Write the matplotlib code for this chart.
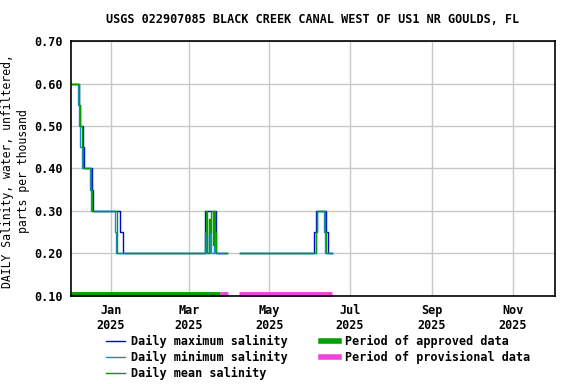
import numpy as np
import pandas as pd
from matplotlib import pyplot as plt
from matplotlib.lines import Line2D
import matplotlib.dates as mdates

"""Daily salinity at Black Creek Canal, step plot of max / min / mean"""

plt.rcParams['font.family'] = 'DejaVu Sans Mono'
plt.rcParams['font.weight'] = 'bold'
plt.rcParams['font.size'] = 8.5

# change points (date, value); NaN marks a gap in the record
max_dates = ['2024-12-03', '2024-12-08', '2024-12-09', '2024-12-11', '2024-12-12',
             '2024-12-18', '2024-12-19', '2025-01-08', '2025-01-10', '2025-03-13',
             '2025-03-22', '2025-03-30', '2025-04-09', '2025-06-04', '2025-06-05',
             '2025-06-13', '2025-06-14', '2025-06-17']
max_vals = [0.60, 0.55, 0.50, 0.45, 0.40, 0.35, 0.30, 0.25, 0.20, 0.30,
            0.20, np.nan, 0.20, 0.25, 0.30, 0.25, 0.20, np.nan]

min_dates = ['2024-12-03', '2024-12-07', '2024-12-08', '2024-12-09', '2024-12-10',
             '2024-12-16', '2024-12-17', '2025-01-04', '2025-01-05', '2025-03-14',
             '2025-03-15', '2025-03-17', '2025-03-18', '2025-03-20', '2025-03-21',
             '2025-03-30', '2025-04-09', '2025-06-05', '2025-06-06', '2025-06-11',
             '2025-06-12', '2025-06-17']
min_vals = [0.60, 0.55, 0.50, 0.45, 0.40, 0.35, 0.30, 0.25, 0.20, 0.25,
            0.20, 0.25, 0.20, 0.25, 0.20, np.nan, 0.20, 0.25, 0.30, 0.25,
            0.20, np.nan]

mean_dates = ['2024-12-03', '2024-12-08', '2024-12-09', '2024-12-10', '2024-12-11',
              '2024-12-17', '2024-12-18', '2025-01-06', '2025-03-13', '2025-03-14',
              '2025-03-15', '2025-03-16', '2025-03-17', '2025-03-18', '2025-03-19',
              '2025-03-20', '2025-03-21', '2025-03-22', '2025-03-30', '2025-04-09',
              '2025-06-05', '2025-06-06', '2025-06-12', '2025-06-13', '2025-06-17']
mean_vals = [0.60, 0.55, 0.50, 0.45, 0.40, 0.35, 0.30, 0.20, 0.25, 0.30,
             0.20, 0.28, 0.25, 0.30, 0.22, 0.30, 0.25, 0.20, np.nan, 0.20,
             0.25, 0.30, 0.25, 0.20, np.nan]

# data-quality periods (start, end)
approved = [('2024-12-02', '2025-03-25')]
provisional = [('2025-03-25', '2025-03-31'), ('2025-04-08', '2025-06-17')]

fig = plt.figure(figsize=(5.76, 3.84), dpi=100)
ax = fig.add_axes([0.1233, 0.2292, 0.8402, 0.664])

c_max = '#0000e6'
c_min = '#1a8ad4'
c_mean = '#00a000'
c_appr = '#00a000'
c_prov = '#ee44dd'

ax.step(pd.to_datetime(max_dates), max_vals, where='post', color=c_max, lw=1)
ax.step(pd.to_datetime(min_dates), min_vals, where='post', color=c_min, lw=1)
ax.step(pd.to_datetime(mean_dates), mean_vals, where='post', color=c_mean, lw=1)

for s, e in approved:
    ax.plot(pd.to_datetime([s, e]), [0.1035, 0.1035], color=c_appr, lw=3.5,
            solid_capstyle='butt', clip_on=False)
for s, e in provisional:
    ax.plot(pd.to_datetime([s, e]), [0.1035, 0.1035], color=c_prov, lw=3.5,
            solid_capstyle='butt', clip_on=False)

ax.set_xlim(pd.Timestamp('2024-12-02'), pd.Timestamp('2025-12-03'))
ax.set_ylim(0.1, 0.7)
ax.set_yticks([0.1, 0.2, 0.3, 0.4, 0.5, 0.6, 0.7])
ax.yaxis.set_major_formatter(plt.FormatStrFormatter('%.2f'))
ax.xaxis.set_major_locator(mdates.MonthLocator(bymonth=[1, 3, 5, 7, 9, 11]))
ax.xaxis.set_major_formatter(mdates.DateFormatter('%b\n%Y'))
ax.tick_params(length=0, pad=6)
ax.grid(True, color='#c8c8c8', lw=1)
ax.set_axisbelow(True)
for sp in ax.spines.values():
    sp.set_linewidth(1.2)

ax.set_title('USGS 022907085 BLACK CREEK CANAL WEST OF US1 NR GOULDS, FL',
             fontsize=8.5, fontweight='bold', pad=13)
ax.set_ylabel('DAILY Salinity, water, unfiltered,\nparts per thousand',
              fontsize=8.3, linespacing=1.25)
ax.yaxis.set_label_coords(-0.085, 0.49)

handles = [
    Line2D([], [], color=c_max, lw=1),
    Line2D([], [], color=c_min, lw=1),
    Line2D([], [], color=c_mean, lw=1),
    Line2D([], [], color=c_appr, lw=4),
    Line2D([], [], color=c_prov, lw=4),
]
labels = ['Daily maximum salinity', 'Daily minimum salinity', 'Daily mean salinity',
          'Period of approved data', 'Period of provisional data']
fig.legend(handles, labels, loc='upper left', bbox_to_anchor=(0.184, 0.128),
           ncol=2, frameon=False, handlelength=1.6, handletextpad=0.5,
           columnspacing=2.8, labelspacing=0.25, borderaxespad=0, borderpad=0)

fig.savefig('out.png', dpi=100)
